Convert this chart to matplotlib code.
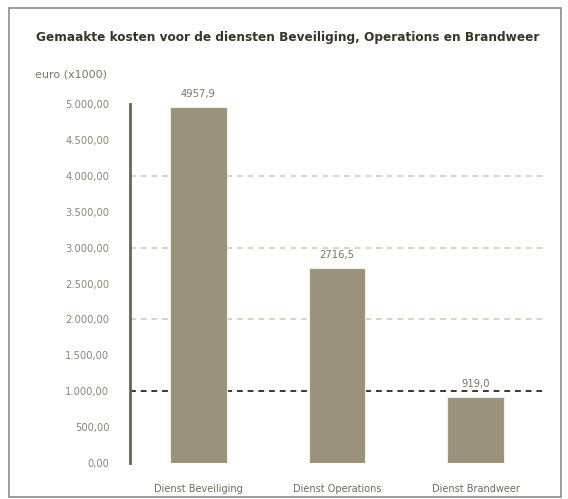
import matplotlib
matplotlib.use('Agg')
import matplotlib.pyplot as plt
from matplotlib.patches import Rectangle

# gegevens
categorieen = ['Dienst Beveiliging', 'Dienst Operations', 'Dienst Brandweer']
kosten = [4957.9, 2716.5, 919.0]
kosten_labels = ['4957,9', '2716,5', '919,0']
y_ticks = [0, 500, 1000, 1500, 2000, 2500, 3000, 3500, 4000, 4500, 5000]
y_tick_labels = ['0,00', '500,00', '1.000,00', '1.500,00', '2.000,00', '2.500,00',
                 '3.000,00', '3.500,00', '4.000,00', '4.500,00', '5.000,00']
grid_licht = [2000, 3000, 4000]
grid_donker = [1000]

plt.rcParams['font.family'] = ['DejaVu Sans']

fig = plt.figure(figsize=(5.68, 4.99), dpi=100)
ax = fig.add_axes([0.229, 0.072, 0.731, 0.7194])

# rand om de hele figuur
fig.patches.append(Rectangle((0.015, 0.004), 0.972, 0.98, transform=fig.transFigure,
                             fill=False, edgecolor='#8c8c8c', linewidth=1.2))

x = list(range(len(categorieen)))
ax.bar(x, kosten, width=0.41, color='#9b927b', edgecolor='#f0ede4', linewidth=0.8, zorder=3)

for yv in grid_licht:
    ax.axhline(yv, color='#d9d3c2', linestyle=(0, (3, 2.5)), linewidth=1.4, zorder=1)
for yv in grid_donker:
    ax.axhline(yv, color='#3e3826', linestyle=(0, (3, 2.5)), linewidth=1.4, zorder=1)

# waardelabels boven de staven
for xi, v, lab in zip(x, kosten, kosten_labels):
    ax.text(xi, v + 110, lab, ha='center', va='bottom', fontsize=7.2, color='#7a7566', zorder=4)

ax.set_xlim(-0.49, 2.5)
ax.set_ylim(0, 5000)
ax.set_yticks(y_ticks)
ax.set_yticklabels(y_tick_labels, fontsize=7.2, color='#8a8678')
ax.set_xticks(x)
ax.set_xticklabels(categorieen, fontsize=7, color='#6f6a5a')
ax.tick_params(axis='y', length=0, pad=15)
ax.tick_params(axis='x', length=0, pad=15)

for s in ['top', 'right', 'bottom']:
    ax.spines[s].set_visible(False)
ax.spines['left'].set_color('#6b6550')
ax.spines['left'].set_linewidth(2)

fig.text(0.507, 0.925, 'Gemaakte kosten voor de diensten Beveiliging, Operations en Brandweer',
         ha='center', va='center', fontsize=8.7, fontweight='bold', color='#3a3426')
fig.text(0.062, 0.85, 'euro (x1000)', ha='left', va='center', fontsize=8, color='#7a7566')

fig.savefig('out.png', dpi=100)
